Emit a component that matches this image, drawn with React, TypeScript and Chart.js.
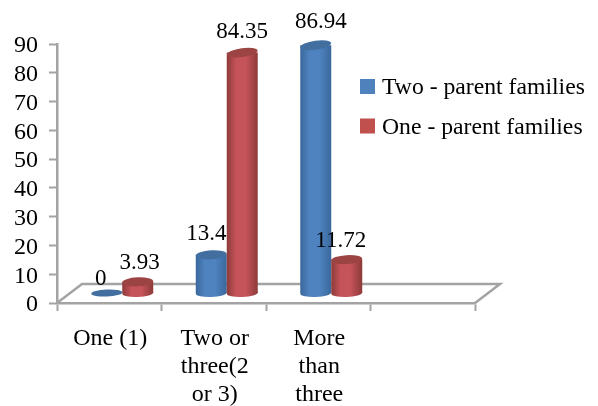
import React, { useEffect, useRef } from "react";
import { Chart, registerables } from "chart.js";

Chart.register(...registerables);

const categories: (string | string[])[] = ["One (1)", ["Two or", "three(2", "or 3)"], ["More", "than", "three"], ""];
const twoParent = [0, 13.4, 86.94, null];
const oneParent = [3.93, 84.35, 11.72, null];
const yTicks = [0, 10, 20, 30, 40, 50, 60, 70, 80, 90];
const seriesNames = ["Two - parent families", "One - parent families"];

const FONT = '"Liberation Serif"';
const GREY = "#a3a3a3";
const BAR_DX = 13;
const shades = [
  { edge: "#3a689c", mid: "#4f83c0", cap: "#426f9f", key: "#4f81bd" },
  { edge: "#8e3a39", mid: "#c4535a", cap: "#9c4444", key: "#c0504d" },
];
const labelNudge = [
  [{ x: -6, y: -14 }, { x: -5, y: -21 }, { x: 5, y: -23 }],
  [{ x: 2, y: -19 }, { x: 0, y: -21 }, { x: -6, y: -19 }],
];

const gradientFor = (ds: number) => (ctx: any) => {
  const chart = ctx.chart;
  const x = chart.scales?.x;
  if (!x || !chart.chartArea || ctx.dataIndex === undefined) return shades[ds].mid;
  const cw = x.width / categories.length;
  const w = (cw * 0.593) / 2;
  const c = x.getPixelForValue(ctx.dataIndex);
  const left = ds === 0 ? c - w : c;
  const g = chart.ctx.createLinearGradient(left, 0, left + w, 0);
  g.addColorStop(0, shades[ds].edge);
  g.addColorStop(0.3, shades[ds].mid);
  g.addColorStop(0.62, shades[ds].mid);
  g.addColorStop(1, shades[ds].edge);
  return g;
};

const cylinder3d = {
  id: "cylinder3d",
  beforeDraw(chart: any) {
    const { ctx } = chart;
    const { left, right, bottom } = chart.chartArea;
    const backY = bottom - 19;
    const dx = 25;
    ctx.save();
    ctx.strokeStyle = GREY;
    ctx.lineWidth = 2.5;
    ctx.beginPath();
    ctx.moveTo(left, bottom);
    ctx.lineTo(left + dx, backY);
    ctx.lineTo(right + dx, backY);
    ctx.lineTo(right, bottom);
    ctx.stroke();
    ctx.restore();
  },
  beforeDatasetsDraw(chart: any) {
    const { ctx } = chart;
    [0, 1].forEach((ds) => {
      const meta = chart.getDatasetMeta(ds);
      ctx.save();
      ctx.translate(BAR_DX, 0);
      meta.controller.draw();
      meta.data.forEach((bar: any, i: number) => {
        const v = chart.data.datasets[ds].data[i];
        if (v === null || v === undefined) return;
        const rx = bar.width / 2;
        if (v > 0) {
          ctx.fillStyle = bar.options.backgroundColor;
          ctx.beginPath();
          ctx.ellipse(bar.x, bar.base, rx, 4, -0.04, 0, Math.PI * 2);
          ctx.fill();
        }
        const tilt = -0.04 - (0.1 * (bar.base - bar.y)) / 250;
        ctx.fillStyle = shades[ds].cap;
        ctx.beginPath();
        ctx.ellipse(bar.x, bar.y, rx, v > 0 ? 4.5 : 3.5, tilt, 0, Math.PI * 2);
        ctx.fill();
      });
      ctx.restore();
    });
    return false;
  },
  afterDraw(chart: any) {
    const { ctx } = chart;
    ctx.save();
    ctx.fillStyle = "#000";
    ctx.font = `23px ${FONT}`;
    ctx.textAlign = "center";
    ctx.textBaseline = "middle";
    [0, 1].forEach((ds) => {
      chart.getDatasetMeta(ds).data.forEach((bar: any, i: number) => {
        const v = chart.data.datasets[ds].data[i];
        if (v === null || v === undefined) return;
        const n = labelNudge[ds][i];
        ctx.fillText(String(v), bar.x + BAR_DX + n.x, bar.y + n.y);
      });
    });
    chart.data.datasets.forEach((d: any, ds: number) => {
      const y = 86.5 + ds * 39.5;
      ctx.fillStyle = shades[ds].key;
      ctx.fillRect(360, y - 7.5, 15, 15);
      ctx.fillStyle = "#000";
      ctx.textAlign = "left";
      ctx.font = `23.7px ${FONT}`;
      ctx.fillText(d.label, 382, y + 1.5);
    });
    ctx.restore();
  },
};

export default function App() {
  const ref = useRef<HTMLCanvasElement>(null);
  useEffect(() => {
    const chart = new Chart(ref.current!, {
      type: "bar",
      data: {
        labels: categories as any,
        datasets: [
          { label: seriesNames[0], data: twoParent, yAxisID: "yBar", clip: false, backgroundColor: gradientFor(0) as any } as any,
          { label: seriesNames[1], data: oneParent, yAxisID: "yBar", clip: false, backgroundColor: gradientFor(1) as any } as any,
        ],
      },
      plugins: [cylinder3d],
      options: {
        animation: false,
        responsive: false,
        devicePixelRatio: 1,
        layout: { padding: { top: 44, right: 123, left: 0, bottom: 0 } },
        plugins: { legend: { display: false }, title: { display: false }, tooltip: { enabled: false } },
        datasets: { bar: { barPercentage: 1, categoryPercentage: 0.593, borderWidth: 0 } },
        scales: {
          x: {
            offset: true,
            afterFit: (s: any) => { s.height = 103; },
            grid: { offset: true, drawOnChartArea: false, drawTicks: true, tickLength: 8, tickWidth: 2, tickColor: GREY },
            border: { color: GREY, width: 2.5 },
            ticks: { color: "#000", font: { family: FONT, size: 24, lineHeight: 1.17 }, padding: 14, labelOffset: 1, maxRotation: 0, autoSkip: false },
          },
          y: {
            min: 0,
            max: 90,
            afterFit: (s: any) => { s.width = 57; },
            afterBuildTicks: (s: any) => { s.ticks = yTicks.map((value) => ({ value })); },
            grid: { drawOnChartArea: false, drawTicks: true, tickLength: 8, tickWidth: 2, tickColor: GREY },
            border: { color: GREY, width: 2.5 },
            ticks: { color: "#000", font: { family: FONT, size: 24 }, padding: 11, labelOffset: 2, autoSkip: false },
          },
          yBar: { display: false, min: -3.5, max: 87.37 },
        },
      } as any,
    });
    return () => chart.destroy();
  }, []);
  return (
    <div style={{ position: "absolute", left: 0, top: 0, width: 598, height: 406, background: "#fff" }}>
      <canvas ref={ref} width={598} height={406} style={{ display: "block" }} />
    </div>
  );
}
